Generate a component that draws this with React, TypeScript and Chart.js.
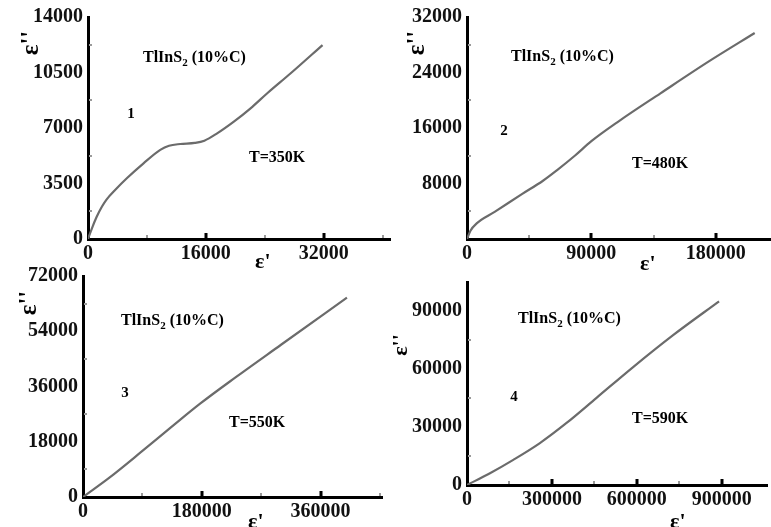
import React, { useEffect, useRef } from "react";
import { Chart, registerables } from "chart.js";
Chart.register(...registerables);

const W = 771;
const H = 527;

// Panel 1: T = 350K
const p1Real = [0, 600, 1180, 1900, 2540, 3680, 5270, 7540, 9810, 11000, 12530, 14500, 15800, 17530, 19800, 22070, 24340, 27520, 31840];
const p1Imag = [0, 750, 1400, 2050, 2500, 3090, 3830, 4770, 5620, 5880, 5990, 6060, 6200, 6660, 7400, 8240, 9190, 10450, 12230];
const p1XTicks = [0, 16000, 32000];
const p1XMinor = [8000, 24000, 40000];
const p1YTicks = [0, 3500, 7000, 10500, 14000];
const p1YMinor = [1750, 5250, 8750, 12250];

// Panel 2: T = 480K
const p2Real = [0, 2500, 7000, 20000, 40000, 55000, 65000, 78000, 90000, 110000, 140000, 175000, 208200];
const p2Imag = [0, 1200, 2250, 3900, 6500, 8400, 9900, 12000, 14100, 17000, 21000, 25600, 29700];
const p2XTicks = [0, 90000, 180000];
const p2XMinor = [45000, 135000];
const p2YTicks = [8000, 16000, 24000, 32000];
const p2YMinor = [4000, 12000, 20000, 28000];

// Panel 3: T = 550K
const p3Real = [0, 40000, 90000, 135000, 177400, 230000, 300000, 399900];
const p3Imag = [0, 6300, 15000, 23000, 30400, 38800, 49600, 64970];
const p3XTicks = [0, 180000, 360000];
const p3XMinor = [90000, 270000, 450000];
const p3YTicks = [0, 18000, 36000, 54000, 72000];
const p3YMinor = [9000, 27000, 45000, 63000];

// Panel 4: T = 590K
const p4Real = [0, 81200, 163500, 257600, 351800, 457700, 587000, 728200, 890600];
const p4Imag = [0, 6080, 13000, 21680, 32080, 45080, 61000, 77500, 95000];
const p4XTicks = [0, 300000, 600000, 900000];
const p4XMinor = [150000, 450000, 750000];
const p4YTicks = [0, 30000, 60000, 90000];
const p4YMinor = [15000, 45000, 75000];

const sampleLabel = "TlInS";
const sampleSub = "2";
const sampleRest = " (10%C)";
const curveNums = ["1", "2", "3", "4"];
const temps = ["T=350K", "T=480K", "T=550K", "T=590K"];

const SERIF = '"Liberation Serif", "Times New Roman", serif';

type Panel = {
  xs: number[]; ys: number[];
  xMax: number; yMax: number;
  xTicks: number[]; yTicks: number[]; xMinor: number[]; yMinor: number[];
  area: { l: number; t: number; r: number; b: number };
  num: string; temp: string;
  titlePos: [number, number]; numPos: [number, number]; tempPos: [number, number];
  yLab: [number, number]; xLab: [number, number]; yLabSize: number;
};

const panels: Panel[] = [
  {
    xs: p1Real, ys: p1Imag, xMax: 41000, yMax: 14000,
    xTicks: p1XTicks, yTicks: p1YTicks, xMinor: p1XMinor, yMinor: p1YMinor,
    area: { l: 88, t: 16, r: 390, b: 239 },
    num: curveNums[0], temp: temps[0],
    titlePos: [143, 62], numPos: [131, 118], tempPos: [249, 162],
    yLab: [38, 43], xLab: [255, 268], yLabSize: 25,
  },
  {
    xs: p2Real, ys: p2Imag, xMax: 220000, yMax: 32000,
    xTicks: p2XTicks, yTicks: p2YTicks, xMinor: p2XMinor, yMinor: p2YMinor,
    area: { l: 467, t: 16, r: 771, b: 239 },
    num: curveNums[1], temp: temps[1],
    titlePos: [511, 61], numPos: [504, 135], tempPos: [632, 168],
    yLab: [424, 43], xLab: [640, 270], yLabSize: 25,
  },
  {
    xs: p3Real, ys: p3Imag, xMax: 453000, yMax: 72000,
    xTicks: p3XTicks, yTicks: p3YTicks, xMinor: p3XMinor, yMinor: p3YMinor,
    area: { l: 83, t: 276, r: 382, b: 497 },
    num: curveNums[2], temp: temps[2],
    titlePos: [121, 325], numPos: [125, 397], tempPos: [229, 427],
    yLab: [36, 303], xLab: [248, 528], yLabSize: 25,
  },
  {
    xs: p4Real, ys: p4Imag, xMax: 1060000, yMax: 105000,
    xTicks: p4XTicks, yTicks: p4YTicks, xMinor: p4XMinor, yMinor: p4YMinor,
    area: { l: 467, t: 282, r: 767, b: 485 },
    num: curveNums[3], temp: temps[3],
    titlePos: [518, 323], numPos: [514, 401], tempPos: [632, 423],
    yLab: [407, 345], xLab: [670, 528], yLabSize: 22,
  },
];

const X_AXIS_H = 30;

function makeDecor(p: Panel, idx: number) {
  return {
    id: "decor" + idx,
    afterDraw(chart: any) {
      const ctx: CanvasRenderingContext2D = chart.ctx;
      const xs = chart.scales.x;
      const ys = chart.scales.y;
      const a = chart.chartArea;
      ctx.save();
      ctx.fillStyle = "#000";
      for (const v of p.xTicks) {
        if (v === 0) continue;
        const px = xs.getPixelForValue(v);
        ctx.fillRect(Math.round(px) - 1.5, a.bottom - 6, 3, 5);
      }
      ctx.fillStyle = "#9a9a9a";
      for (const v of p.xMinor) {
        if (v > p.xMax) continue;
        const px = xs.getPixelForValue(v);
        ctx.fillRect(Math.round(px) - 1, a.bottom - 4, 2, 3);
      }
      for (const v of p.yMinor) {
        const py = ys.getPixelForValue(v);
        ctx.fillRect(a.left + 1, Math.round(py) - 1, 3, 2);
      }
      ctx.fillStyle = "#000";
      ctx.textAlign = "left";
      ctx.textBaseline = "alphabetic";
      let cx = p.titlePos[0];
      const by = p.titlePos[1];
      ctx.font = `bold 16px ${SERIF}`;
      ctx.fillText(sampleLabel, cx, by);
      cx += ctx.measureText(sampleLabel).width;
      ctx.font = `bold 11px ${SERIF}`;
      ctx.fillText(sampleSub, cx, by + 4);
      cx += ctx.measureText(sampleSub).width;
      ctx.font = `bold 16px ${SERIF}`;
      ctx.fillText(sampleRest, cx, by);
      ctx.font = `bold 15px ${SERIF}`;
      ctx.textAlign = "center";
      ctx.fillText(p.num, p.numPos[0], p.numPos[1]);
      ctx.font = `bold 16px ${SERIF}`;
      ctx.textAlign = "left";
      ctx.fillText(p.temp, p.tempPos[0], p.tempPos[1]);
      ctx.font = `bold 22px ${SERIF}`;
      ctx.fillText("\u03b5'", p.xLab[0], p.xLab[1]);
      ctx.translate(p.yLab[0], p.yLab[1]);
      ctx.rotate(-Math.PI / 2);
      ctx.font = `bold ${p.yLabSize}px ${SERIF}`;
      ctx.textAlign = "center";
      ctx.fillText("\u03b5''", 0, 0);
      ctx.restore();
    },
  };
}

function PanelChart({ p, idx }: { p: Panel; idx: number }) {
  const ref = useRef<HTMLCanvasElement | null>(null);
  useEffect(() => {
    if (!ref.current) return;
    const data = p.xs.map((x, i) => ({ x, y: p.ys[i] }));
    const tickFont = { family: SERIF, size: 20, weight: "bold" as const };
    const chart = new Chart(ref.current, {
      type: "scatter",
      data: {
        datasets: [
          {
            data,
            showLine: true,
            borderColor: "#6b6b6b",
            borderWidth: 2.2,
            pointRadius: 0,
            cubicInterpolationMode: "monotone",
            fill: false,
          } as any,
        ],
      },
      options: {
        responsive: false,
        animation: false,
        events: [],
        layout: {
          padding: {
            left: 0,
            top: p.area.t,
            right: W - p.area.r,
            bottom: H - p.area.b - X_AXIS_H,
          },
        },
        plugins: { legend: { display: false }, tooltip: { enabled: false } },
        scales: {
          x: {
            type: "linear",
            min: 0,
            max: p.xMax,
            afterBuildTicks: (scale: any) => {
              scale.ticks = p.xTicks.map((v) => ({ value: v }));
            },
            afterFit: (scale: any) => {
              scale.height = X_AXIS_H;
            },
            ticks: {
              autoSkip: false,
              maxRotation: 0,
              padding: 3,
              color: "#111",
              font: tickFont,
              callback: (v: any) => String(v),
            },
            grid: { drawOnChartArea: false, drawTicks: false, color: "rgba(0,0,0,0)" },
            border: { display: true, color: "#000", width: 3 },
          },
          y: {
            type: "linear",
            min: 0,
            max: p.yMax,
            afterBuildTicks: (scale: any) => {
              scale.ticks = p.yTicks.map((v) => ({ value: v }));
            },
            afterFit: (scale: any) => {
              scale.width = p.area.l;
            },
            ticks: {
              autoSkip: false,
              padding: 5,
              color: "#111",
              font: tickFont,
              callback: (v: any) => String(v),
            },
            grid: { drawOnChartArea: false, drawTicks: false, color: "rgba(0,0,0,0)" },
            border: { display: true, color: "#000", width: 3 },
          },
        },
      },
      plugins: [makeDecor(p, idx)],
    } as any);
    return () => chart.destroy();
  }, [p, idx]);
  return (
    <canvas
      ref={ref}
      width={W}
      height={H}
      style={{ position: "absolute", left: 0, top: 0, width: W, height: H }}
    />
  );
}

export default function App() {
  return (
    <div
      style={{
        position: "fixed",
        left: 0,
        top: 0,
        width: W,
        height: H,
        background: "#fff",
        overflow: "hidden",
      }}
    >
      {panels.map((p, i) => (
        <PanelChart key={i} p={p} idx={i} />
      ))}
    </div>
  );
}
